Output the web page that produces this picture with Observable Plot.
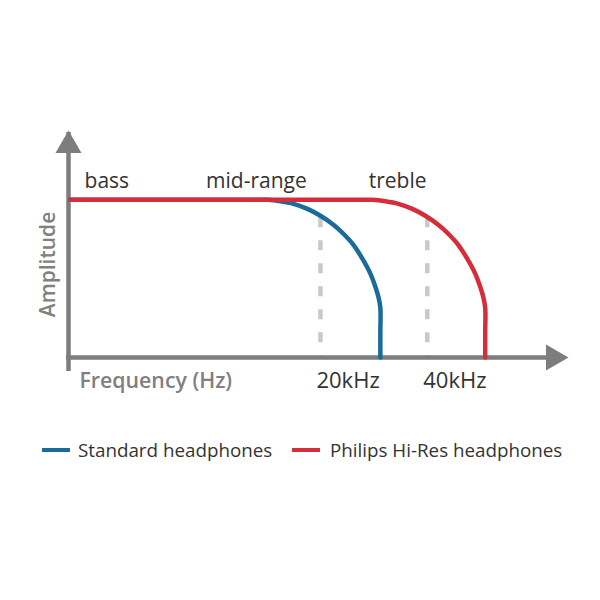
<!DOCTYPE html>
<html>
<head>
<meta charset="utf-8">
<script src="https://cdn.jsdelivr.net/npm/d3@7"></script>
<script src="https://cdn.jsdelivr.net/npm/@observablehq/plot@0.6"></script>
<style>
  body { margin: 0; background: #fff; font-family: "Open Sans", sans-serif; }
  #wrap { width: 600px; height: 600px; position: relative; overflow: hidden; }
  #legend { position: relative; width: 600px; height: 175px; color: #333; font-size: 18.8px; }
  #legend .sw { position: absolute; top: 23px; height: 4px; width: 28px; }
  #legend .lb { position: absolute; top: 11px; line-height: 28px; white-space: nowrap; }
</style>
</head>
<body>
<div id="wrap"></div>
<script>
// Frequency (kHz, log axis) and relative amplitude
const standardKHz = [3.95, 12.5, 14.19, 15.44, 16.79, 18.38, 20.0, 21.76, 23.21, 24.77, 26.25, 27.65, 28.56, 29.12, 29.5, 29.5, 29.5];
const standardAmp = [1.0, 1.0, 1.0, 0.991, 0.975, 0.943, 0.899, 0.842, 0.785, 0.715, 0.627, 0.532, 0.449, 0.386, 0.316, 0.16, 0.0];
const hiresKHz = [3.95, 26.0, 28.01, 30.47, 33.15, 36.3, 39.49, 42.96, 45.83, 48.9, 51.83, 54.59, 56.39, 57.5, 58.25, 58.25, 58.25];
const hiresAmp = [1.0, 1.0, 1.0, 0.991, 0.975, 0.943, 0.899, 0.842, 0.785, 0.715, 0.627, 0.532, 0.449, 0.386, 0.316, 0.16, 0.0];
const tickKHz = [20, 40];
const tickLabels = ["20kHz", "40kHz"];
const guideTopAmp = 0.886;
const bandNames = ["bass", "mid-range", "treble"];
const bandKHz = [5.0, 13.2, 33.0];
const seriesNames = ["Standard headphones", "Philips Hi-Res headphones"];
const xDomain = [3.9, 100];
const yDomain = [0, 1.44];
const yTitleAmp = 0.59;

const blue = "#1a6b97", red = "#d52d3a", axisGray = "#7d7d7d", guideGray = "#c9c9c9";
const std = standardKHz.map((k, i) => ({kHz: k, amp: standardAmp[i]}));
const hires = hiresKHz.map((k, i) => ({kHz: k, amp: hiresAmp[i]}));

const chart = Plot.plot({
  width: 600, height: 425,
  marginLeft: 68, marginRight: 32, marginTop: 130, marginBottom: 68,
  style: {fontFamily: "'Open Sans', sans-serif", background: "#fff"},
  x: {type: "log", domain: xDomain, axis: null},
  y: {domain: yDomain, axis: null},
  marks: [
    Plot.ruleX(tickKHz, {x: d => d, y1: guideTopAmp, y2: 0, stroke: guideGray, strokeWidth: 4.5, strokeDasharray: "10,13"}),
    Plot.ruleX([xDomain[0]], {x: d => d, y1: yDomain[0], y2: yDomain[1], stroke: axisGray, strokeWidth: 4.5, insetTop: 14, insetBottom: -2}),
    Plot.ruleY([yDomain[0]], {y: d => d, x1: xDomain[0], x2: xDomain[1], stroke: axisGray, strokeWidth: 4.5, insetLeft: -2, insetRight: 14}),
    Plot.dot([0], {x: () => xDomain[0], y: () => yDomain[1], symbol: "triangle2", r: 12.4, fill: axisGray, stroke: "none", dy: 15}),
    Plot.dot([0], {x: () => xDomain[1], y: () => yDomain[0], symbol: "triangle2", r: 12.4, fill: axisGray, stroke: "none", dx: -15, rotate: 90}),
    Plot.line(std, {x: "kHz", y: "amp", stroke: blue, strokeWidth: 4.5, curve: "catmull-rom"}),
    Plot.line(hires, {x: "kHz", y: "amp", stroke: red, strokeWidth: 4.5, curve: "catmull-rom"}),
    Plot.text(bandNames, {x: (d, i) => bandKHz[i], y: () => 1, dy: -12, lineAnchor: "bottom", fontSize: 21, fill: "#333"}),
    Plot.text(tickLabels, {x: (d, i) => tickKHz[i], y: () => 0, dx: -4, dy: 30, textAnchor: "start", lineAnchor: "bottom", fontSize: 22, fill: "#333"}),
    Plot.text(["Frequency (Hz)"], {frameAnchor: "bottom-left", dx: 11, dy: 30, textAnchor: "start", lineAnchor: "bottom", fontSize: 21.3, fontWeight: 600, fill: "#808080"}),
    Plot.text(["Amplitude"], {x: () => xDomain[0], y: () => yTitleAmp, dx: -20, rotate: -90, fontSize: 21, fontWeight: 600, fill: "#808080"})
  ]
});
const wrap = document.getElementById("wrap");
wrap.appendChild(chart);

const legend = document.createElement("div");
legend.id = "legend";
const colors = [blue, red];
const swLeft = [42, 292], lbLeft = [78, 330];
seriesNames.forEach((name, i) => {
  const sw = document.createElement("span");
  sw.className = "sw"; sw.style.left = swLeft[i] + "px"; sw.style.background = colors[i];
  const lb = document.createElement("span");
  lb.className = "lb"; lb.style.left = lbLeft[i] + "px"; lb.textContent = name;
  legend.appendChild(sw); legend.appendChild(lb);
});
wrap.appendChild(legend);
</script>
</body>
</html>
